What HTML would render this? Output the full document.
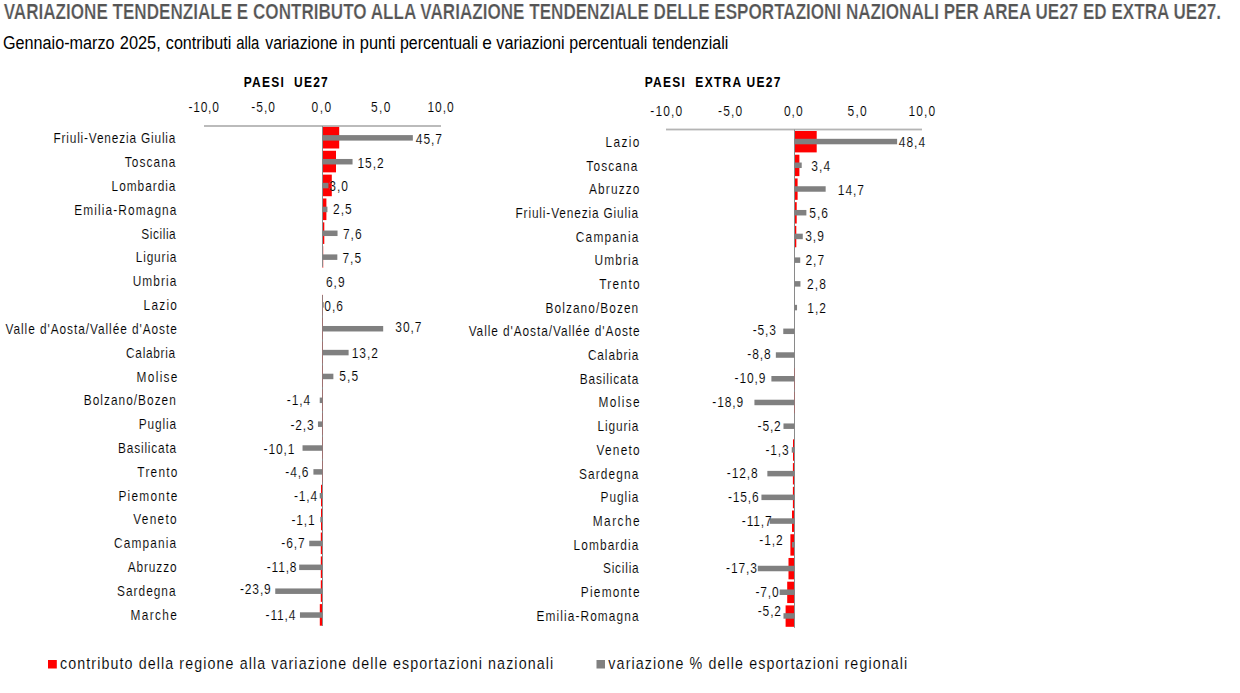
<!DOCTYPE html><html><head><meta charset="utf-8"><style>html,body{margin:0;padding:0;background:#fff;}body{width:1240px;height:693px;overflow:hidden;} svg{display:block;}</style></head><body><svg width="1240" height="693" viewBox="0 0 1240 693">
<rect width="1240" height="693" fill="#fff"/>
<text transform="translate(3.68,18.70) scale(0.7955,1)" font-family='"Liberation Sans", sans-serif' font-size="21.5" font-weight="bold" fill="#555555" stroke="#fff" stroke-width="0.25" xml:space="preserve">VARIAZIONE TENDENZIALE E CONTRIBUTO ALLA VARIAZIONE TENDENZIALE DELLE ESPORTAZIONI NAZIONALI PER AREA UE27 ED EXTRA UE27.</text>
<text transform="translate(2.99,48.60) scale(0.8522,1)" font-family='"Liberation Sans", sans-serif' font-size="19" fill="#000" xml:space="preserve">Gennaio-marzo</text>
<text transform="translate(119.78,48.60) scale(0.8623,1)" font-family='"Liberation Sans", sans-serif' font-size="19" fill="#000" xml:space="preserve">2025,</text>
<text transform="translate(165.82,48.60) scale(0.8504,1)" font-family='"Liberation Sans", sans-serif' font-size="19" fill="#000" xml:space="preserve">contributi</text>
<text transform="translate(236.17,48.60) scale(0.7817,1)" font-family='"Liberation Sans", sans-serif' font-size="19" fill="#000" xml:space="preserve">alla</text>
<text transform="translate(265.34,48.60) scale(0.8344,1)" font-family='"Liberation Sans", sans-serif' font-size="19" fill="#000" xml:space="preserve">variazione</text>
<text transform="translate(342.19,48.60) scale(0.8712,1)" font-family='"Liberation Sans", sans-serif' font-size="19" fill="#000" xml:space="preserve">in</text>
<text transform="translate(359.74,48.60) scale(0.8655,1)" font-family='"Liberation Sans", sans-serif' font-size="19" fill="#000" xml:space="preserve">punti</text>
<text transform="translate(399.97,48.60) scale(0.8402,1)" font-family='"Liberation Sans", sans-serif' font-size="19" fill="#000" xml:space="preserve">percentuali</text>
<text transform="translate(482.27,48.60) scale(0.9084,1)" font-family='"Liberation Sans", sans-serif' font-size="19" fill="#000" xml:space="preserve">e</text>
<text transform="translate(496.34,48.60) scale(0.8528,1)" font-family='"Liberation Sans", sans-serif' font-size="19" fill="#000" xml:space="preserve">variazioni</text>
<text transform="translate(569.27,48.60) scale(0.8402,1)" font-family='"Liberation Sans", sans-serif' font-size="19" fill="#000" xml:space="preserve">percentuali</text>
<text transform="translate(652.16,48.60) scale(0.8389,1)" font-family='"Liberation Sans", sans-serif' font-size="19" fill="#000" xml:space="preserve">tendenziali</text>
<text transform="translate(243.79,86.90) scale(0.8000,1)" letter-spacing="1.516" font-family='"Liberation Sans", sans-serif' font-size="15" font-weight="bold" fill="#000" xml:space="preserve">PAESI  UE27</text>
<text transform="translate(644.69,86.90) scale(0.8000,1)" letter-spacing="1.591" font-family='"Liberation Sans", sans-serif' font-size="15" font-weight="bold" fill="#000" xml:space="preserve">PAESI  EXTRA UE27</text>
<text transform="translate(188.47,111.80) scale(0.8000,1)" letter-spacing="0.954" font-family='"Liberation Sans", sans-serif' font-size="15" fill="#000" stroke="#fff" stroke-width="0.12" xml:space="preserve">-10,0</text>
<text transform="translate(251.27,111.80) scale(0.8000,1)" letter-spacing="1.217" font-family='"Liberation Sans", sans-serif' font-size="15" fill="#000" stroke="#fff" stroke-width="0.12" xml:space="preserve">-5,0</text>
<text transform="translate(311.53,111.80) scale(0.8000,1)" letter-spacing="1.909" font-family='"Liberation Sans", sans-serif' font-size="15" fill="#000" stroke="#fff" stroke-width="0.12" xml:space="preserve">0,0</text>
<text transform="translate(371.02,111.80) scale(0.8000,1)" letter-spacing="1.727" font-family='"Liberation Sans", sans-serif' font-size="15" fill="#000" stroke="#fff" stroke-width="0.12" xml:space="preserve">5,0</text>
<text transform="translate(427.48,111.80) scale(0.8000,1)" letter-spacing="1.180" font-family='"Liberation Sans", sans-serif' font-size="15" fill="#000" stroke="#fff" stroke-width="0.12" xml:space="preserve">10,0</text>
<text transform="translate(650.37,116.00) scale(0.8000,1)" letter-spacing="1.360" font-family='"Liberation Sans", sans-serif' font-size="15" fill="#000" stroke="#fff" stroke-width="0.12" xml:space="preserve">-10,0</text>
<text transform="translate(718.07,116.00) scale(0.8000,1)" letter-spacing="1.383" font-family='"Liberation Sans", sans-serif' font-size="15" fill="#000" stroke="#fff" stroke-width="0.12" xml:space="preserve">-5,0</text>
<text transform="translate(783.93,116.00) scale(0.8000,1)" letter-spacing="1.221" font-family='"Liberation Sans", sans-serif' font-size="15" fill="#000" stroke="#fff" stroke-width="0.12" xml:space="preserve">0,0</text>
<text transform="translate(847.52,116.00) scale(0.8000,1)" letter-spacing="1.539" font-family='"Liberation Sans", sans-serif' font-size="15" fill="#000" stroke="#fff" stroke-width="0.12" xml:space="preserve">5,0</text>
<text transform="translate(908.38,116.00) scale(0.8000,1)" letter-spacing="1.430" font-family='"Liberation Sans", sans-serif' font-size="15" fill="#000" stroke="#fff" stroke-width="0.12" xml:space="preserve">10,0</text>
<rect x="204" y="125.10" width="237" height="1.8" fill="#b4b4b4"/>
<rect x="322.50" y="126.90" width="16.70" height="21.60" fill="#f00"/>
<rect x="322.50" y="150.76" width="13.50" height="21.60" fill="#f00"/>
<rect x="322.50" y="174.62" width="9.30" height="21.60" fill="#f00"/>
<rect x="322.50" y="198.48" width="3.90" height="21.60" fill="#f00"/>
<rect x="322.50" y="222.34" width="1.80" height="21.60" fill="#f00"/>
<rect x="322.50" y="246.20" width="0.70" height="21.60" fill="#f00"/>
<rect x="321.00" y="484.80" width="1.50" height="21.60" fill="#f00"/>
<rect x="321.00" y="508.66" width="1.50" height="21.60" fill="#f00"/>
<rect x="320.80" y="532.52" width="1.70" height="21.60" fill="#f00"/>
<rect x="320.80" y="556.38" width="1.70" height="21.60" fill="#f00"/>
<rect x="320.80" y="580.24" width="1.70" height="21.60" fill="#f00"/>
<rect x="319.80" y="604.10" width="2.70" height="21.60" fill="#f00"/>
<rect x="322.00" y="126.00" width="1" height="140.80" fill="#8a8a8a"/>
<rect x="322.00" y="295.00" width="1" height="331.00" fill="#8a8a8a"/>
<rect x="322.00" y="293.92" width="1" height="21.60" fill="#f00" opacity="0.12"/>
<rect x="322.00" y="317.78" width="1" height="21.60" fill="#f00" opacity="0.18"/>
<rect x="322.00" y="341.64" width="1" height="21.60" fill="#f00" opacity="0.18"/>
<rect x="322.00" y="365.50" width="1" height="21.60" fill="#f00" opacity="0.18"/>
<rect x="322.00" y="389.36" width="1" height="21.60" fill="#f00" opacity="0.18"/>
<rect x="322.00" y="413.22" width="1" height="21.60" fill="#f00" opacity="0.18"/>
<rect x="322.00" y="437.08" width="1" height="21.60" fill="#f00" opacity="0.18"/>
<rect x="322.00" y="460.94" width="1" height="21.60" fill="#f00" opacity="0.18"/>
<rect x="322.50" y="135.10" width="90.35" height="5.50" fill="#808080"/>
<rect x="322.50" y="158.96" width="30.05" height="5.50" fill="#808080"/>
<rect x="322.50" y="182.82" width="5.93" height="5.50" fill="#808080"/>
<rect x="322.50" y="206.68" width="4.94" height="5.50" fill="#808080"/>
<rect x="322.50" y="230.54" width="15.03" height="5.50" fill="#808080"/>
<rect x="322.50" y="254.40" width="14.83" height="5.50" fill="#808080"/>
<rect x="322.50" y="302.12" width="1.19" height="5.50" fill="#808080"/>
<rect x="322.50" y="325.98" width="60.69" height="5.50" fill="#808080"/>
<rect x="322.50" y="349.84" width="26.10" height="5.50" fill="#808080"/>
<rect x="322.50" y="373.70" width="10.87" height="5.50" fill="#808080"/>
<rect x="319.73" y="397.56" width="2.77" height="5.50" fill="#808080"/>
<rect x="317.95" y="421.42" width="4.55" height="5.50" fill="#808080"/>
<rect x="302.53" y="445.28" width="19.97" height="5.50" fill="#808080"/>
<rect x="313.41" y="469.14" width="9.09" height="5.50" fill="#808080"/>
<rect x="319.73" y="493.00" width="2.77" height="5.50" fill="#808080"/>
<rect x="320.33" y="516.86" width="2.17" height="5.50" fill="#808080"/>
<rect x="309.25" y="540.72" width="13.25" height="5.50" fill="#808080"/>
<rect x="299.17" y="564.58" width="23.33" height="5.50" fill="#808080"/>
<rect x="275.25" y="588.44" width="47.25" height="5.50" fill="#808080"/>
<rect x="299.96" y="612.30" width="22.54" height="5.50" fill="#808080"/>
<text transform="translate(415.73,143.80) scale(0.8000,1)" letter-spacing="1.233" font-family='"Liberation Sans", sans-serif' font-size="15" fill="#000" stroke="#fff" stroke-width="0.12" xml:space="preserve">45,7</text>
<text transform="translate(357.48,167.60) scale(0.8000,1)" letter-spacing="1.198" font-family='"Liberation Sans", sans-serif' font-size="15" fill="#000" stroke="#fff" stroke-width="0.12" xml:space="preserve">15,2</text>
<text transform="translate(329.25,190.60) scale(0.8000,1)" letter-spacing="1.297" font-family='"Liberation Sans", sans-serif' font-size="15" fill="#000" stroke="#fff" stroke-width="0.12" xml:space="preserve">3,0</text>
<text transform="translate(333.00,214.00) scale(0.8000,1)" letter-spacing="1.282" font-family='"Liberation Sans", sans-serif' font-size="15" fill="#000" stroke="#fff" stroke-width="0.12" xml:space="preserve">2,5</text>
<text transform="translate(342.88,238.60) scale(0.8000,1)" letter-spacing="1.279" font-family='"Liberation Sans", sans-serif' font-size="15" fill="#000" stroke="#fff" stroke-width="0.12" xml:space="preserve">7,6</text>
<text transform="translate(342.38,262.60) scale(0.8000,1)" letter-spacing="1.281" font-family='"Liberation Sans", sans-serif' font-size="15" fill="#000" stroke="#fff" stroke-width="0.12" xml:space="preserve">7,5</text>
<text transform="translate(325.89,286.70) scale(0.8000,1)" letter-spacing="1.276" font-family='"Liberation Sans", sans-serif' font-size="15" fill="#000" stroke="#fff" stroke-width="0.12" xml:space="preserve">6,9</text>
<text transform="translate(324.23,310.50) scale(0.8000,1)" letter-spacing="1.291" font-family='"Liberation Sans", sans-serif' font-size="15" fill="#000" stroke="#fff" stroke-width="0.12" xml:space="preserve">0,6</text>
<text transform="translate(395.25,331.50) scale(0.8000,1)" letter-spacing="1.223" font-family='"Liberation Sans", sans-serif' font-size="15" fill="#000" stroke="#fff" stroke-width="0.12" xml:space="preserve">30,7</text>
<text transform="translate(351.68,357.60) scale(0.8000,1)" letter-spacing="1.198" font-family='"Liberation Sans", sans-serif' font-size="15" fill="#000" stroke="#fff" stroke-width="0.12" xml:space="preserve">13,2</text>
<text transform="translate(339.32,381.20) scale(0.8000,1)" letter-spacing="1.292" font-family='"Liberation Sans", sans-serif' font-size="15" fill="#000" stroke="#fff" stroke-width="0.12" xml:space="preserve">5,5</text>
<text transform="translate(286.86,405.20) scale(0.8000,1)" letter-spacing="1.086" font-family='"Liberation Sans", sans-serif' font-size="15" fill="#000" stroke="#fff" stroke-width="0.12" xml:space="preserve">-1,4</text>
<text transform="translate(290.47,429.50) scale(0.8000,1)" letter-spacing="1.076" font-family='"Liberation Sans", sans-serif' font-size="15" fill="#000" stroke="#fff" stroke-width="0.12" xml:space="preserve">-2,3</text>
<text transform="translate(263.59,453.50) scale(0.8000,1)" letter-spacing="1.079" font-family='"Liberation Sans", sans-serif' font-size="15" fill="#000" stroke="#fff" stroke-width="0.12" xml:space="preserve">-10,1</text>
<text transform="translate(285.27,476.50) scale(0.8000,1)" letter-spacing="1.076" font-family='"Liberation Sans", sans-serif' font-size="15" fill="#000" stroke="#fff" stroke-width="0.12" xml:space="preserve">-4,6</text>
<text transform="translate(293.96,500.50) scale(0.8000,1)" letter-spacing="1.086" font-family='"Liberation Sans", sans-serif' font-size="15" fill="#000" stroke="#fff" stroke-width="0.12" xml:space="preserve">-1,4</text>
<text transform="translate(291.43,524.80) scale(0.8000,1)" letter-spacing="1.073" font-family='"Liberation Sans", sans-serif' font-size="15" fill="#000" stroke="#fff" stroke-width="0.12" xml:space="preserve">-1,1</text>
<text transform="translate(281.35,548.30) scale(0.8000,1)" letter-spacing="1.072" font-family='"Liberation Sans", sans-serif' font-size="15" fill="#000" stroke="#fff" stroke-width="0.12" xml:space="preserve">-6,7</text>
<text transform="translate(266.71,571.90) scale(0.8000,1)" letter-spacing="1.046" font-family='"Liberation Sans", sans-serif' font-size="15" fill="#000" stroke="#fff" stroke-width="0.12" xml:space="preserve">-11,8</text>
<text transform="translate(239.97,594.00) scale(0.8000,1)" letter-spacing="1.080" font-family='"Liberation Sans", sans-serif' font-size="15" fill="#000" stroke="#fff" stroke-width="0.12" xml:space="preserve">-23,9</text>
<text transform="translate(265.61,619.70) scale(0.8000,1)" letter-spacing="1.053" font-family='"Liberation Sans", sans-serif' font-size="15" fill="#000" stroke="#fff" stroke-width="0.12" xml:space="preserve">-11,4</text>
<text transform="translate(53.42,143.40) scale(0.8200,1)" letter-spacing="0.996" font-family='"Liberation Sans", sans-serif' font-size="14.5" fill="#000" stroke="#fff" stroke-width="0.12" xml:space="preserve">Friuli-Venezia Giulia</text>
<text transform="translate(124.64,167.21) scale(0.8200,1)" letter-spacing="1.336" font-family='"Liberation Sans", sans-serif' font-size="14.5" fill="#000" stroke="#fff" stroke-width="0.12" xml:space="preserve">Toscana</text>
<text transform="translate(111.62,191.02) scale(0.8200,1)" letter-spacing="1.172" font-family='"Liberation Sans", sans-serif' font-size="14.5" fill="#000" stroke="#fff" stroke-width="0.12" xml:space="preserve">Lombardia</text>
<text transform="translate(74.32,214.83) scale(0.8200,1)" letter-spacing="1.340" font-family='"Liberation Sans", sans-serif' font-size="14.5" fill="#000" stroke="#fff" stroke-width="0.12" xml:space="preserve">Emilia-Romagna</text>
<text transform="translate(141.36,238.64) scale(0.8200,1)" letter-spacing="0.668" font-family='"Liberation Sans", sans-serif' font-size="14.5" fill="#000" stroke="#fff" stroke-width="0.12" xml:space="preserve">Sicilia</text>
<text transform="translate(135.72,262.45) scale(0.8200,1)" letter-spacing="1.033" font-family='"Liberation Sans", sans-serif' font-size="14.5" fill="#000" stroke="#fff" stroke-width="0.12" xml:space="preserve">Liguria</text>
<text transform="translate(132.68,286.26) scale(0.8200,1)" letter-spacing="1.341" font-family='"Liberation Sans", sans-serif' font-size="14.5" fill="#000" stroke="#fff" stroke-width="0.12" xml:space="preserve">Umbria</text>
<text transform="translate(143.52,310.07) scale(0.8200,1)" letter-spacing="1.540" font-family='"Liberation Sans", sans-serif' font-size="14.5" fill="#000" stroke="#fff" stroke-width="0.12" xml:space="preserve">Lazio</text>
<text transform="translate(5.45,333.88) scale(0.8200,1)" letter-spacing="1.142" font-family='"Liberation Sans", sans-serif' font-size="14.5" fill="#000" stroke="#fff" stroke-width="0.12" xml:space="preserve">Valle d&#39;Aosta/Vallée d&#39;Aoste</text>
<text transform="translate(126.10,357.69) scale(0.8200,1)" letter-spacing="0.823" font-family='"Liberation Sans", sans-serif' font-size="14.5" fill="#000" stroke="#fff" stroke-width="0.12" xml:space="preserve">Calabria</text>
<text transform="translate(136.62,381.50) scale(0.8200,1)" letter-spacing="1.573" font-family='"Liberation Sans", sans-serif' font-size="14.5" fill="#000" stroke="#fff" stroke-width="0.12" xml:space="preserve">Molise</text>
<text transform="translate(83.82,405.31) scale(0.8200,1)" letter-spacing="1.226" font-family='"Liberation Sans", sans-serif' font-size="14.5" fill="#000" stroke="#fff" stroke-width="0.12" xml:space="preserve">Bolzano/Bozen</text>
<text transform="translate(138.82,429.12) scale(0.8200,1)" letter-spacing="1.054" font-family='"Liberation Sans", sans-serif' font-size="14.5" fill="#000" stroke="#fff" stroke-width="0.12" xml:space="preserve">Puglia</text>
<text transform="translate(118.12,452.93) scale(0.8200,1)" letter-spacing="0.974" font-family='"Liberation Sans", sans-serif' font-size="14.5" fill="#000" stroke="#fff" stroke-width="0.12" xml:space="preserve">Basilicata</text>
<text transform="translate(137.34,476.74) scale(0.8200,1)" letter-spacing="1.496" font-family='"Liberation Sans", sans-serif' font-size="14.5" fill="#000" stroke="#fff" stroke-width="0.12" xml:space="preserve">Trento</text>
<text transform="translate(118.42,500.55) scale(0.8200,1)" letter-spacing="1.529" font-family='"Liberation Sans", sans-serif' font-size="14.5" fill="#000" stroke="#fff" stroke-width="0.12" xml:space="preserve">Piemonte</text>
<text transform="translate(133.25,524.36) scale(0.8200,1)" letter-spacing="1.567" font-family='"Liberation Sans", sans-serif' font-size="14.5" fill="#000" stroke="#fff" stroke-width="0.12" xml:space="preserve">Veneto</text>
<text transform="translate(114.00,548.17) scale(0.8200,1)" letter-spacing="1.394" font-family='"Liberation Sans", sans-serif' font-size="14.5" fill="#000" stroke="#fff" stroke-width="0.12" xml:space="preserve">Campania</text>
<text transform="translate(127.67,571.98) scale(0.8200,1)" letter-spacing="1.099" font-family='"Liberation Sans", sans-serif' font-size="14.5" fill="#000" stroke="#fff" stroke-width="0.12" xml:space="preserve">Abruzzo</text>
<text transform="translate(117.06,595.79) scale(0.8200,1)" letter-spacing="1.215" font-family='"Liberation Sans", sans-serif' font-size="14.5" fill="#000" stroke="#fff" stroke-width="0.12" xml:space="preserve">Sardegna</text>
<text transform="translate(130.42,619.60) scale(0.8200,1)" letter-spacing="1.673" font-family='"Liberation Sans", sans-serif' font-size="14.5" fill="#000" stroke="#fff" stroke-width="0.12" xml:space="preserve">Marche</text>
<rect x="666" y="128.60" width="256" height="1.8" fill="#b4b4b4"/>
<rect x="794.50" y="131.00" width="22.20" height="21.40" fill="#f00"/>
<rect x="794.50" y="154.72" width="4.90" height="21.40" fill="#f00"/>
<rect x="794.50" y="178.44" width="3.10" height="21.40" fill="#f00"/>
<rect x="794.50" y="202.16" width="2.20" height="21.40" fill="#f00"/>
<rect x="794.50" y="225.88" width="1.80" height="21.40" fill="#f00"/>
<rect x="794.00" y="415.64" width="0.50" height="21.40" fill="#f00"/>
<rect x="793.00" y="439.36" width="1.50" height="21.40" fill="#f00"/>
<rect x="792.90" y="463.08" width="1.60" height="21.40" fill="#f00"/>
<rect x="792.90" y="486.80" width="1.60" height="21.40" fill="#f00"/>
<rect x="792.00" y="510.52" width="2.50" height="21.40" fill="#f00"/>
<rect x="790.40" y="534.24" width="4.10" height="21.40" fill="#f00"/>
<rect x="788.50" y="557.96" width="6.00" height="21.40" fill="#f00"/>
<rect x="787.20" y="581.68" width="7.30" height="21.40" fill="#f00"/>
<rect x="785.60" y="605.40" width="8.90" height="21.40" fill="#f00"/>
<rect x="794.00" y="129.50" width="1" height="498.30" fill="#8a8a8a"/>
<rect x="794.00" y="368.20" width="1" height="21.40" fill="#f00" opacity="0.18"/>
<rect x="794.00" y="391.92" width="1" height="21.40" fill="#f00" opacity="0.18"/>
<rect x="794.50" y="138.80" width="102.61" height="5.50" fill="#808080"/>
<rect x="794.50" y="162.52" width="7.21" height="5.50" fill="#808080"/>
<rect x="794.50" y="186.24" width="31.16" height="5.50" fill="#808080"/>
<rect x="794.50" y="209.96" width="11.87" height="5.50" fill="#808080"/>
<rect x="794.50" y="233.68" width="8.27" height="5.50" fill="#808080"/>
<rect x="794.50" y="257.40" width="5.72" height="5.50" fill="#808080"/>
<rect x="794.50" y="281.12" width="5.94" height="5.50" fill="#808080"/>
<rect x="794.50" y="304.84" width="2.54" height="5.50" fill="#808080"/>
<rect x="783.26" y="328.56" width="11.24" height="5.50" fill="#808080"/>
<rect x="775.84" y="352.28" width="18.66" height="5.50" fill="#808080"/>
<rect x="771.39" y="376.00" width="23.11" height="5.50" fill="#808080"/>
<rect x="754.43" y="399.72" width="40.07" height="5.50" fill="#808080"/>
<rect x="783.48" y="423.44" width="11.02" height="5.50" fill="#808080"/>
<rect x="791.74" y="447.16" width="2.76" height="5.50" fill="#808080"/>
<rect x="767.36" y="470.88" width="27.14" height="5.50" fill="#808080"/>
<rect x="761.43" y="494.60" width="33.07" height="5.50" fill="#808080"/>
<rect x="769.70" y="518.32" width="24.80" height="5.50" fill="#808080"/>
<rect x="791.96" y="542.04" width="2.54" height="5.50" fill="#808080"/>
<rect x="757.82" y="565.76" width="36.68" height="5.50" fill="#808080"/>
<rect x="779.66" y="589.48" width="14.84" height="5.50" fill="#808080"/>
<rect x="783.48" y="613.20" width="11.02" height="5.50" fill="#808080"/>
<text transform="translate(898.73,146.60) scale(0.8000,1)" letter-spacing="1.247" font-family='"Liberation Sans", sans-serif' font-size="15" fill="#000" stroke="#fff" stroke-width="0.12" xml:space="preserve">48,4</text>
<text transform="translate(811.35,170.80) scale(0.8000,1)" letter-spacing="1.307" font-family='"Liberation Sans", sans-serif' font-size="15" fill="#000" stroke="#fff" stroke-width="0.12" xml:space="preserve">3,4</text>
<text transform="translate(837.78,194.70) scale(0.8000,1)" letter-spacing="1.198" font-family='"Liberation Sans", sans-serif' font-size="15" fill="#000" stroke="#fff" stroke-width="0.12" xml:space="preserve">14,7</text>
<text transform="translate(809.22,218.20) scale(0.8000,1)" letter-spacing="1.290" font-family='"Liberation Sans", sans-serif' font-size="15" fill="#000" stroke="#fff" stroke-width="0.12" xml:space="preserve">5,6</text>
<text transform="translate(805.15,241.30) scale(0.8000,1)" letter-spacing="1.289" font-family='"Liberation Sans", sans-serif' font-size="15" fill="#000" stroke="#fff" stroke-width="0.12" xml:space="preserve">3,9</text>
<text transform="translate(805.40,265.20) scale(0.8000,1)" letter-spacing="1.274" font-family='"Liberation Sans", sans-serif' font-size="15" fill="#000" stroke="#fff" stroke-width="0.12" xml:space="preserve">2,7</text>
<text transform="translate(807.10,288.80) scale(0.8000,1)" letter-spacing="1.281" font-family='"Liberation Sans", sans-serif' font-size="15" fill="#000" stroke="#fff" stroke-width="0.12" xml:space="preserve">2,8</text>
<text transform="translate(807.28,312.60) scale(0.8000,1)" letter-spacing="1.248" font-family='"Liberation Sans", sans-serif' font-size="15" fill="#000" stroke="#fff" stroke-width="0.12" xml:space="preserve">1,2</text>
<text transform="translate(752.67,334.90) scale(0.8000,1)" letter-spacing="1.076" font-family='"Liberation Sans", sans-serif' font-size="15" fill="#000" stroke="#fff" stroke-width="0.12" xml:space="preserve">-5,3</text>
<text transform="translate(747.36,358.50) scale(0.8000,1)" letter-spacing="1.077" font-family='"Liberation Sans", sans-serif' font-size="15" fill="#000" stroke="#fff" stroke-width="0.12" xml:space="preserve">-8,8</text>
<text transform="translate(734.57,383.30) scale(0.8000,1)" letter-spacing="1.080" font-family='"Liberation Sans", sans-serif' font-size="15" fill="#000" stroke="#fff" stroke-width="0.12" xml:space="preserve">-10,9</text>
<text transform="translate(712.37,406.90) scale(0.8000,1)" letter-spacing="1.080" font-family='"Liberation Sans", sans-serif' font-size="15" fill="#000" stroke="#fff" stroke-width="0.12" xml:space="preserve">-18,9</text>
<text transform="translate(757.55,431.30) scale(0.8000,1)" letter-spacing="1.072" font-family='"Liberation Sans", sans-serif' font-size="15" fill="#000" stroke="#fff" stroke-width="0.12" xml:space="preserve">-5,2</text>
<text transform="translate(765.47,455.20) scale(0.8000,1)" letter-spacing="1.076" font-family='"Liberation Sans", sans-serif' font-size="15" fill="#000" stroke="#fff" stroke-width="0.12" xml:space="preserve">-1,3</text>
<text transform="translate(726.81,478.30) scale(0.8000,1)" letter-spacing="1.082" font-family='"Liberation Sans", sans-serif' font-size="15" fill="#000" stroke="#fff" stroke-width="0.12" xml:space="preserve">-12,8</text>
<text transform="translate(727.92,502.30) scale(0.8000,1)" letter-spacing="1.082" font-family='"Liberation Sans", sans-serif' font-size="15" fill="#000" stroke="#fff" stroke-width="0.12" xml:space="preserve">-15,6</text>
<text transform="translate(741.81,526.30) scale(0.8000,1)" letter-spacing="1.042" font-family='"Liberation Sans", sans-serif' font-size="15" fill="#000" stroke="#fff" stroke-width="0.12" xml:space="preserve">-11,7</text>
<text transform="translate(759.35,544.90) scale(0.8000,1)" letter-spacing="1.072" font-family='"Liberation Sans", sans-serif' font-size="15" fill="#000" stroke="#fff" stroke-width="0.12" xml:space="preserve">-1,2</text>
<text transform="translate(726.12,573.30) scale(0.8000,1)" letter-spacing="1.082" font-family='"Liberation Sans", sans-serif' font-size="15" fill="#000" stroke="#fff" stroke-width="0.12" xml:space="preserve">-17,3</text>
<text transform="translate(755.40,597.30) scale(0.8000,1)" letter-spacing="1.080" font-family='"Liberation Sans", sans-serif' font-size="15" fill="#000" stroke="#fff" stroke-width="0.12" xml:space="preserve">-7,0</text>
<text transform="translate(757.75,615.50) scale(0.8000,1)" letter-spacing="1.072" font-family='"Liberation Sans", sans-serif' font-size="15" fill="#000" stroke="#fff" stroke-width="0.12" xml:space="preserve">-5,2</text>
<text transform="translate(605.52,146.85) scale(0.8200,1)" letter-spacing="1.693" font-family='"Liberation Sans", sans-serif' font-size="14.5" fill="#000" stroke="#fff" stroke-width="0.12" xml:space="preserve">Lazio</text>
<text transform="translate(586.34,170.54) scale(0.8200,1)" letter-spacing="1.377" font-family='"Liberation Sans", sans-serif' font-size="14.5" fill="#000" stroke="#fff" stroke-width="0.12" xml:space="preserve">Toscana</text>
<text transform="translate(588.97,194.23) scale(0.8200,1)" letter-spacing="1.404" font-family='"Liberation Sans", sans-serif' font-size="14.5" fill="#000" stroke="#fff" stroke-width="0.12" xml:space="preserve">Abruzzo</text>
<text transform="translate(515.52,217.92) scale(0.8200,1)" letter-spacing="1.033" font-family='"Liberation Sans", sans-serif' font-size="14.5" fill="#000" stroke="#fff" stroke-width="0.12" xml:space="preserve">Friuli-Venezia Giulia</text>
<text transform="translate(575.80,241.61) scale(0.8200,1)" letter-spacing="1.464" font-family='"Liberation Sans", sans-serif' font-size="14.5" fill="#000" stroke="#fff" stroke-width="0.12" xml:space="preserve">Campania</text>
<text transform="translate(594.48,265.30) scale(0.8200,1)" letter-spacing="1.365" font-family='"Liberation Sans", sans-serif' font-size="14.5" fill="#000" stroke="#fff" stroke-width="0.12" xml:space="preserve">Umbria</text>
<text transform="translate(599.14,288.99) scale(0.8200,1)" letter-spacing="1.618" font-family='"Liberation Sans", sans-serif' font-size="14.5" fill="#000" stroke="#fff" stroke-width="0.12" xml:space="preserve">Trento</text>
<text transform="translate(545.62,312.68) scale(0.8200,1)" letter-spacing="1.287" font-family='"Liberation Sans", sans-serif' font-size="14.5" fill="#000" stroke="#fff" stroke-width="0.12" xml:space="preserve">Bolzano/Bozen</text>
<text transform="translate(468.65,336.37) scale(0.8200,1)" letter-spacing="1.123" font-family='"Liberation Sans", sans-serif' font-size="14.5" fill="#000" stroke="#fff" stroke-width="0.12" xml:space="preserve">Valle d&#39;Aosta/Vallée d&#39;Aoste</text>
<text transform="translate(587.90,360.06) scale(0.8200,1)" letter-spacing="1.084" font-family='"Liberation Sans", sans-serif' font-size="14.5" fill="#000" stroke="#fff" stroke-width="0.12" xml:space="preserve">Calabria</text>
<text transform="translate(579.72,383.75) scale(0.8200,1)" letter-spacing="1.055" font-family='"Liberation Sans", sans-serif' font-size="14.5" fill="#000" stroke="#fff" stroke-width="0.12" xml:space="preserve">Basilicata</text>
<text transform="translate(598.42,407.44) scale(0.8200,1)" letter-spacing="1.695" font-family='"Liberation Sans", sans-serif' font-size="14.5" fill="#000" stroke="#fff" stroke-width="0.12" xml:space="preserve">Molise</text>
<text transform="translate(597.52,431.13) scale(0.8200,1)" letter-spacing="1.053" font-family='"Liberation Sans", sans-serif' font-size="14.5" fill="#000" stroke="#fff" stroke-width="0.12" xml:space="preserve">Liguria</text>
<text transform="translate(596.45,454.82) scale(0.8200,1)" letter-spacing="1.518" font-family='"Liberation Sans", sans-serif' font-size="14.5" fill="#000" stroke="#fff" stroke-width="0.12" xml:space="preserve">Veneto</text>
<text transform="translate(578.96,478.51) scale(0.8200,1)" letter-spacing="1.372" font-family='"Liberation Sans", sans-serif' font-size="14.5" fill="#000" stroke="#fff" stroke-width="0.12" xml:space="preserve">Sardegna</text>
<text transform="translate(600.62,502.20) scale(0.8200,1)" letter-spacing="1.152" font-family='"Liberation Sans", sans-serif' font-size="14.5" fill="#000" stroke="#fff" stroke-width="0.12" xml:space="preserve">Puglia</text>
<text transform="translate(592.72,525.89) scale(0.8200,1)" letter-spacing="1.795" font-family='"Liberation Sans", sans-serif' font-size="14.5" fill="#000" stroke="#fff" stroke-width="0.12" xml:space="preserve">Marche</text>
<text transform="translate(573.62,549.58) scale(0.8200,1)" letter-spacing="1.309" font-family='"Liberation Sans", sans-serif' font-size="14.5" fill="#000" stroke="#fff" stroke-width="0.12" xml:space="preserve">Lombardia</text>
<text transform="translate(602.96,573.27) scale(0.8200,1)" letter-spacing="0.952" font-family='"Liberation Sans", sans-serif' font-size="14.5" fill="#000" stroke="#fff" stroke-width="0.12" xml:space="preserve">Sicilia</text>
<text transform="translate(580.82,596.96) scale(0.8200,1)" letter-spacing="1.477" font-family='"Liberation Sans", sans-serif' font-size="14.5" fill="#000" stroke="#fff" stroke-width="0.12" xml:space="preserve">Piemonte</text>
<text transform="translate(536.42,620.65) scale(0.8200,1)" letter-spacing="1.349" font-family='"Liberation Sans", sans-serif' font-size="14.5" fill="#000" stroke="#fff" stroke-width="0.12" xml:space="preserve">Emilia-Romagna</text>
<rect x="48" y="660" width="8.8" height="8.5" fill="#f00"/>
<text transform="translate(60.00,668.70) scale(0.8400,1)" letter-spacing="1.301" font-family='"Liberation Sans", sans-serif' font-size="17" fill="#000" stroke="#fff" stroke-width="0.12" xml:space="preserve">contributo della regione alla variazione delle esportazioni nazionali</text>
<rect x="596.5" y="660" width="8.5" height="8.5" fill="#808080"/>
<text transform="translate(608.35,668.70) scale(0.8400,1)" letter-spacing="1.319" font-family='"Liberation Sans", sans-serif' font-size="17" fill="#000" stroke="#fff" stroke-width="0.12" xml:space="preserve">variazione % delle esportazioni regionali</text>
</svg></body></html>
